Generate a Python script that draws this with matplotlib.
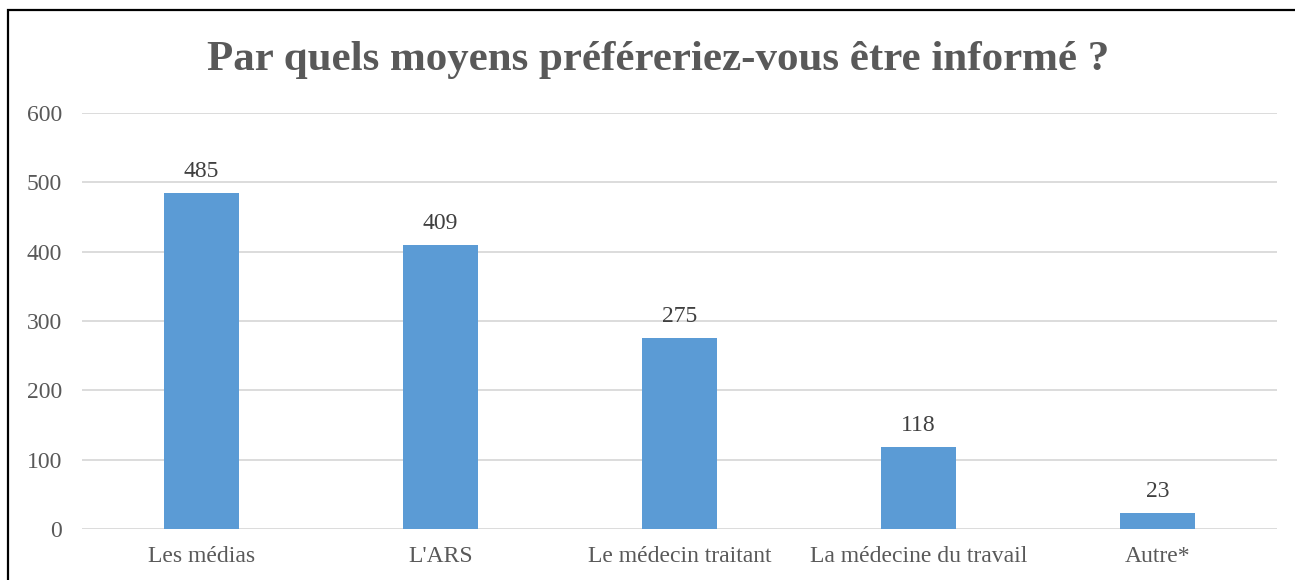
import matplotlib
matplotlib.use('Agg')
import matplotlib.pyplot as plt
from matplotlib.patches import Rectangle

categories = ['Les médias', "L'ARS", 'Le médecin traitant', 'La médecine du travail', 'Autre*']
values = [485, 409, 275, 118, 23]
yticks = [0, 100, 200, 300, 400, 500, 600]
title = 'Par quels moyens préféreriez-vous être informé ?'

plt.rcParams['font.family'] = ['Liberation Serif', 'DejaVu Serif']

fig = plt.figure(figsize=(12.95, 5.8), dpi=100)
ax = fig.add_axes([82 / 1295, 51 / 580, 1195 / 1295, 416 / 580])

x = range(len(categories))
bars = ax.bar(x, values, width=0.314, color='#5B9BD5', zorder=3)

ax.set_xlim(-0.5, len(categories) - 0.5)
ax.set_ylim(0, 600)
ax.set_yticks(yticks)
ax.set_xticks(list(x))
ax.set_xticklabels(categories)
ax.grid(axis='y', color='#D9D9D9', linewidth=1.3, zorder=0)
ax.tick_params(axis='both', length=0, labelsize=17, colors='#595959')
ax.tick_params(axis='y', pad=14.5)
ax.tick_params(axis='x', pad=12)
for s in ax.spines.values():
    s.set_visible(False)

for b, v in zip(bars, values):
    ax.annotate(str(v), (b.get_x() + b.get_width() / 2, v), xytext=(0, 8),
                textcoords='offset points', ha='center', va='bottom',
                fontsize=17, color='#404040')

fig.text(658 / 1295, 1 - 60 / 580, title, ha='center', va='center',
         fontsize=31, fontweight='bold', color='#595959')

# outer frame of the chart
fig.patches.append(Rectangle((7.5 / 1295, -0.1), 1.2, 0.1 + (580 - 10) / 580,
                             transform=fig.transFigure, fill=False,
                             edgecolor='black', linewidth=1.6))

fig.savefig('out.png', dpi=100)
